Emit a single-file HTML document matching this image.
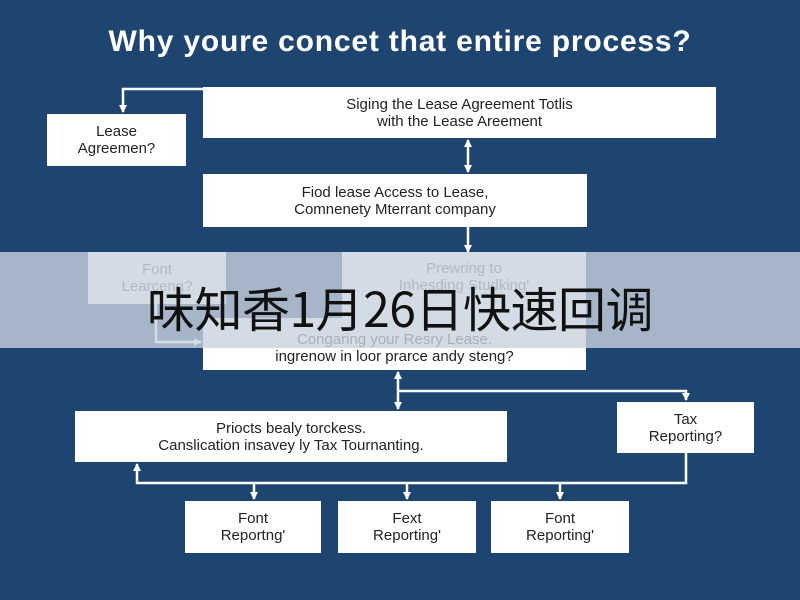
<!DOCTYPE html>
<html><head><meta charset="utf-8"><style>
body{margin:0;width:800px;height:600px;overflow:hidden;background:#1e4570;font-family:"Liberation Sans","Noto Sans CJK SC",sans-serif;position:relative}
.t{position:absolute;left:0;width:800px;top:25px;text-align:center;color:#fff;font-weight:bold;font-size:30px;letter-spacing:0.8px}
.b{position:absolute;background:#fff;color:#222;display:flex;align-items:center;justify-content:center;text-align:center;font-size:15px;line-height:17px}
.banner{position:absolute;left:0;top:252px;width:800px;height:96px;background:rgba(200,210,222,0.8)}
.bt{position:absolute;left:0;width:800px;top:279px;text-align:center;font-size:48px;color:#111;font-family:"Noto Sans CJK SC",sans-serif;line-height:54px;letter-spacing:-0.5px}
svg{position:absolute;left:0;top:0}
</style></head><body>
<div class="t">Why youre concet that entire process?</div>
<svg width="800" height="600">
<defs><marker id="a" markerWidth="8" markerHeight="8" refX="7" refY="4" orient="auto" markerUnits="userSpaceOnUse"><path d="M0,0 L8,4 L0,8z" fill="#fff"/></marker></defs>
<g stroke="#fff" stroke-width="2.5" fill="none">
<path d="M203,89 H123 V112" marker-end="url(#a)"/>
<line x1="468" y1="156" x2="468" y2="140" marker-end="url(#a)"/>
<line x1="468" y1="156" x2="468" y2="172" marker-end="url(#a)"/>
<line x1="468" y1="227" x2="468" y2="252" marker-end="url(#a)"/>
<path d="M156,304 V342 H201" marker-end="url(#a)"/>
<line x1="398" y1="390" x2="398" y2="372" marker-end="url(#a)"/>
<line x1="398" y1="390" x2="398" y2="409" marker-end="url(#a)"/>
<path d="M398,391 H686 V400" marker-end="url(#a)"/>
<path d="M686,453 V483 H137 V464" marker-end="url(#a)"/>
<line x1="254" y1="483" x2="254" y2="499" marker-end="url(#a)"/>
<line x1="407" y1="483" x2="407" y2="499" marker-end="url(#a)"/>
<line x1="560" y1="483" x2="560" y2="499" marker-end="url(#a)"/>
</g></svg>
<div class="b" style="left:203px;top:87px;width:513px;height:51px">Siging the Lease Agreement Totlis<br>with the Lease Areement</div>
<div class="b" style="left:47px;top:114px;width:139px;height:52px">Lease<br>Agreemen?</div>
<div class="b" style="left:203px;top:174px;width:384px;height:53px">Fiod lease Access to Lease,<br>Comnenety Mterrant company</div>
<div class="b" style="left:88px;top:252px;width:138px;height:52px;color:#555">Font<br>Learceng?</div>
<div class="b" style="left:342px;top:252px;width:244px;height:70px;align-items:flex-start;padding-top:8px;box-sizing:border-box;color:#555">Prewring to<br>Inhesding Studking'</div>
<div class="b" style="left:203px;top:318px;width:383px;height:52px;padding-top:8px;box-sizing:border-box">Congaring your Resry Lease.<br>ingrenow in loor prarce andy steng?</div>
<div class="b" style="left:75px;top:411px;width:432px;height:51px">Priocts bealy torckess.<br>Canslication insavey ly Tax Tournanting.</div>
<div class="b" style="left:617px;top:402px;width:137px;height:51px">Tax<br>Reporting?</div>
<div class="b" style="left:185px;top:501px;width:136px;height:52px">Font<br>Reportng'</div>
<div class="b" style="left:338px;top:501px;width:138px;height:52px">Fext<br>Reporting'</div>
<div class="b" style="left:491px;top:501px;width:138px;height:52px">Font<br>Reporting'</div>
<div class="banner"></div>
<div class="bt">味知香1月26日快速回调</div>
</body></html>
